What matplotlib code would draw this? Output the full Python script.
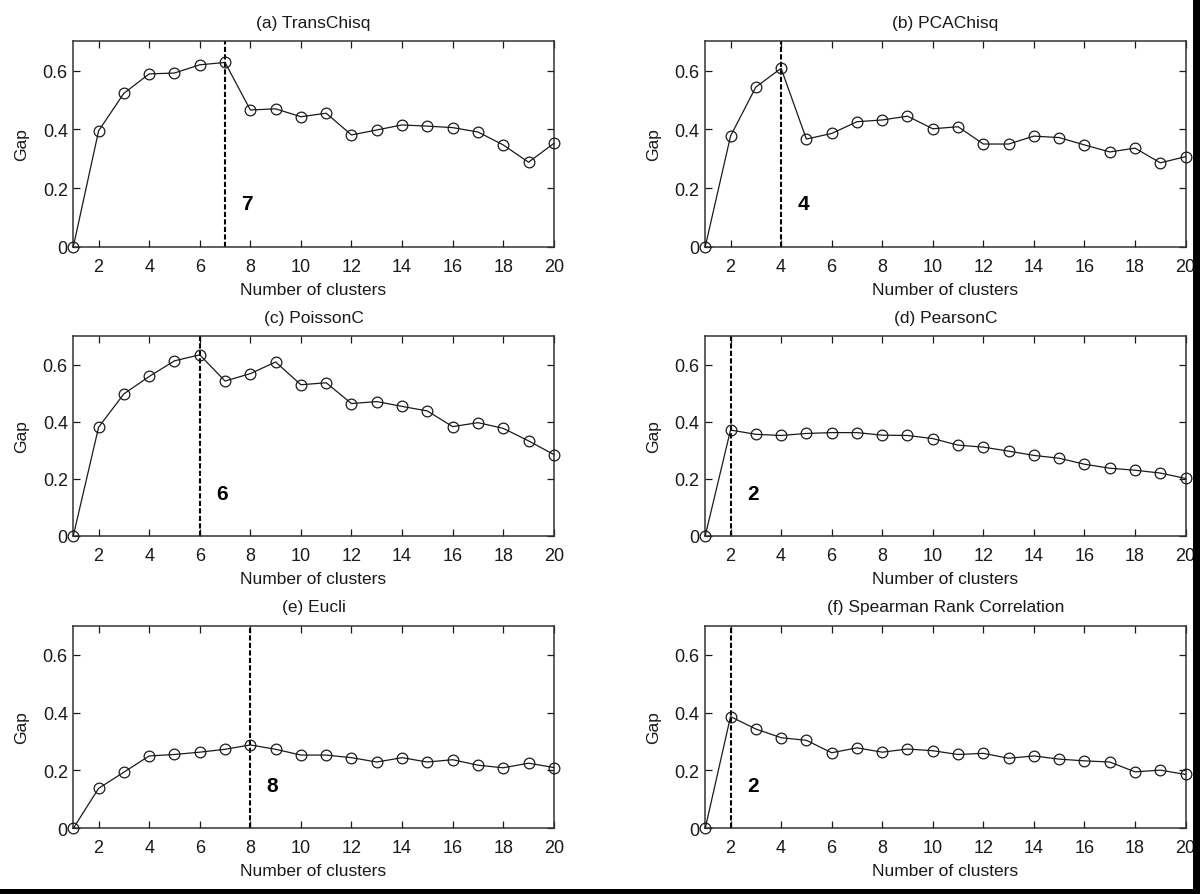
import matplotlib
matplotlib.use("Agg")
import matplotlib.pyplot as plt
from matplotlib.patches import Rectangle

plt.rcParams['font.family'] = ['Liberation Sans', 'DejaVu Sans']

# number of clusters
clusters = list(range(1, 21))

# gap values
gap_transchisq = [0.0, 0.395, 0.523, 0.589, 0.592, 0.620, 0.628, 0.466, 0.470, 0.443,
                  0.455, 0.381, 0.398, 0.415, 0.411, 0.406, 0.391, 0.347, 0.288, 0.352]
gap_pcachisq = [0.0, 0.377, 0.544, 0.608, 0.367, 0.386, 0.426, 0.432, 0.445, 0.402,
                0.409, 0.350, 0.350, 0.377, 0.372, 0.347, 0.323, 0.336, 0.286, 0.307]
gap_poissonc = [0.0, 0.381, 0.498, 0.559, 0.614, 0.635, 0.543, 0.569, 0.610, 0.530,
                0.537, 0.464, 0.471, 0.454, 0.438, 0.383, 0.397, 0.377, 0.333, 0.285]
gap_pearsonc = [0.0, 0.371, 0.356, 0.352, 0.359, 0.362, 0.362, 0.353, 0.352, 0.341,
                0.318, 0.311, 0.297, 0.282, 0.272, 0.251, 0.237, 0.230, 0.220, 0.201]
gap_eucli = [0.0, 0.138, 0.194, 0.250, 0.255, 0.263, 0.273, 0.288, 0.273, 0.253,
             0.253, 0.244, 0.229, 0.244, 0.229, 0.237, 0.218, 0.209, 0.225, 0.210]
gap_spearman = [0.0, 0.386, 0.343, 0.313, 0.304, 0.261, 0.278, 0.263, 0.274, 0.268,
                0.255, 0.259, 0.242, 0.250, 0.239, 0.233, 0.229, 0.195, 0.201, 0.186]

titles = ['(a) TransChisq', '(b) PCAChisq', '(c) PoissonC',
          '(d) PearsonC', '(e) Eucli', '(f) Spearman Rank Correlation']
series = [gap_transchisq, gap_pcachisq, gap_poissonc,
          gap_pearsonc, gap_eucli, gap_spearman]
best_k = [7, 4, 6, 2, 8, 2]

xticks = [2, 4, 6, 8, 10, 12, 14, 16, 18, 20]
yticks = [0, 0.2, 0.4, 0.6]
ytick_labels = ['0', '0.2', '0.4', '0.6']

fig = plt.figure(figsize=(12, 8.95), dpi=100)
fig.patch.set_facecolor('white')

# axes rectangles (left, bottom, width, height) in figure fraction
col_left = [0.0611, 0.5877]
col_width = [0.4004, 0.4003]
row_bottom = [0.7232, 0.4003, 0.0734]
row_height = [0.2295, 0.2228, 0.2264]

ink = '#1a1a1a'
for i, (title, gap, k) in enumerate(zip(titles, series, best_k)):
    r, c = divmod(i, 2)
    ax = fig.add_axes([col_left[c], row_bottom[r], col_width[c], row_height[r]])
    ax.plot(clusters, gap, color=ink, linewidth=0.9, marker='o', markersize=7.7,
            markerfacecolor='none', markeredgecolor=ink, markeredgewidth=0.9,
            clip_on=False, zorder=3)
    ax.axvline(k, color='black', linestyle=(0, (2.5, 1.1)), linewidth=1.5, zorder=2)
    ax.text(k + 0.88, 0.147, str(k), fontsize=15, fontweight='bold',
            ha='center', va='center', color='black')
    ax.set_xlim(1, 20)
    ax.set_ylim(0, 0.7)
    ax.set_xticks(xticks)
    ax.set_yticks(yticks)
    ax.set_yticklabels(ytick_labels)
    ax.tick_params(direction='in', length=5, width=0.9, top=True, right=True,
                   labelsize=13, colors=ink)
    ax.tick_params(axis='x', pad=8)
    ax.tick_params(axis='y', pad=4)
    for sp in ax.spines.values():
        sp.set_color('#333333')
        sp.set_linewidth(1.1)
    ax.set_title(title, fontsize=12.5, color=ink, pad=10.5)
    ax.set_xlabel('Number of clusters', fontsize=12.5, color=ink, labelpad=5)
    ax.set_ylabel('Gap', fontsize=12.5, color=ink, labelpad=10)

# black frame on the right and bottom edges
fig.patches.append(Rectangle((1193 / 1200, 0), 7 / 1200, 1, transform=fig.transFigure,
                             facecolor='black', edgecolor='none'))
fig.patches.append(Rectangle((0, 0), 1, 5 / 895, transform=fig.transFigure,
                             facecolor='black', edgecolor='none'))

fig.savefig('out.png', dpi=100, facecolor='white')
